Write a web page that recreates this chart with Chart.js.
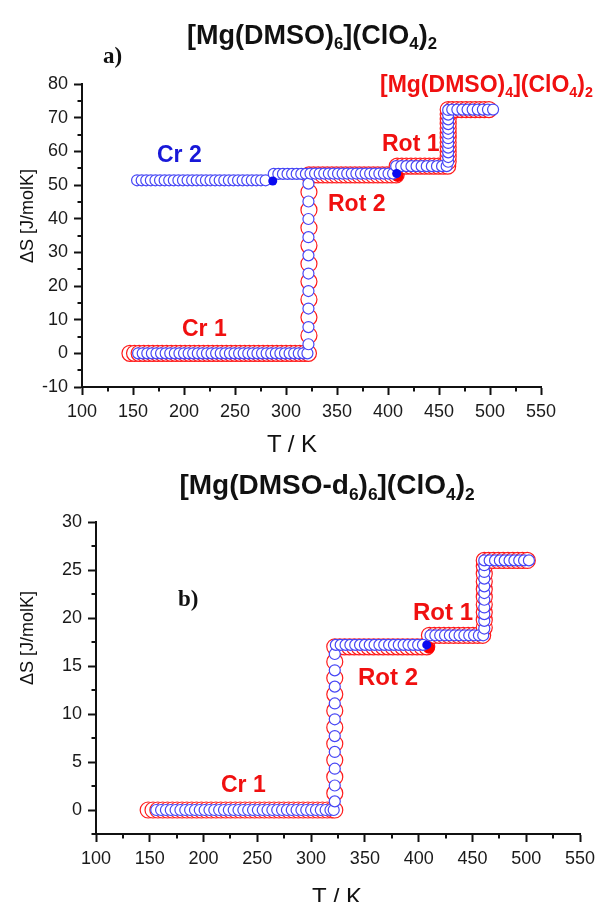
<!DOCTYPE html>
<html>
<head>
<meta charset="utf-8">
<script src="https://cdn.jsdelivr.net/npm/chart.js@4.4.1/dist/chart.umd.min.js"></script>
<style>
  html, body { margin: 0; padding: 0; background: #fff; }
  #page { position: relative; width: 596px; height: 902px; overflow: hidden; }
  .box { position: absolute; left: 0; }
  .lbl { position: absolute; white-space: nowrap; line-height: 1; font-family: "Liberation Sans", Arial, sans-serif; color: #111; }
  .b { font-weight: bold; }
  .sb { font-size: 0.62em; position: relative; top: 0.32em; }
  .ctr { transform: translateX(-50%); }
  .red { color: #f01010; }
  .blue { color: #1818d8; }
  .serif { font-family: "Liberation Serif", "DejaVu Serif", serif; }
  .ytitle { transform: translate(-50%, -50%) rotate(-90deg); font-size: 18px; }
</style>
</head>
<body>
<div id="page">
  <div class="box" style="top:0"><canvas id="chartA" width="596" height="460"></canvas></div>
  <div class="box" style="top:460px"><canvas id="chartB" width="596" height="442"></canvas></div>

  <!-- panel a -->
  <div class="lbl b ctr" style="left:312px;top:22px;font-size:27px">[Mg(DMSO)<span class="sb">6</span>](ClO<span class="sb">4</span>)<span class="sb">2</span></div>
  <div class="lbl b serif" style="left:103px;top:44px;font-size:23px">a)</div>
  <div class="lbl b red" style="left:380px;top:73px;font-size:23px">[Mg(DMSO)<span class="sb">4</span>](ClO<span class="sb">4</span>)<span class="sb">2</span></div>
  <div class="lbl b blue" style="left:157px;top:143px;font-size:23px">Cr 2</div>
  <div class="lbl b red" style="left:382px;top:132px;font-size:23px">Rot 1</div>
  <div class="lbl b red" style="left:328px;top:192px;font-size:23px">Rot 2</div>
  <div class="lbl b red" style="left:182px;top:317px;font-size:23px">Cr 1</div>
  <div class="lbl ytitle" style="left:27px;top:216px">ΔS [J/molK]</div>
  <div class="lbl ctr" style="left:292px;top:432px;font-size:24px">T / K</div>

  <!-- panel b -->
  <div class="lbl b ctr" style="left:327px;top:471px;font-size:28px">[Mg(DMSO-d<span class="sb">6</span>)<span class="sb">6</span>](ClO<span class="sb">4</span>)<span class="sb">2</span></div>
  <div class="lbl b serif" style="left:178px;top:587px;font-size:23px">b)</div>
  <div class="lbl b red" style="left:413px;top:600px;font-size:24px">Rot 1</div>
  <div class="lbl b red" style="left:358px;top:665px;font-size:24px">Rot 2</div>
  <div class="lbl b red" style="left:221px;top:773px;font-size:23px">Cr 1</div>
  <div class="lbl ytitle" style="left:27px;top:638px">ΔS [J/molK]</div>
  <div class="lbl ctr" style="left:337px;top:885px;font-size:24px">T / K</div>
</div>

<script>
// [T (K), ΔS (J/molK)] pairs, panel a
const topRed = [
  [147,0],[151.5,0],[156,0],[160.5,0],[165,0],[169.5,0],[174,0],[178.5,0],[183,0],[187.5,0],
  [192,0],[196.5,0],[201,0],[205.5,0],[210,0],[214.5,0],[219,0],[223.5,0],[228,0],[232.5,0],
  [237,0],[241.5,0],[246,0],[250.5,0],[255,0],[259.5,0],[264,0],[268.5,0],[273,0],[277.5,0],
  [282,0],[286.5,0],[291,0],[295.5,0],[300,0],[304.5,0],[309,0],[313.5,0],[318,0],[322,0],
  [322.5,5.3],[322.5,10.7],[322.5,16.0],[322.5,21.3],[322.5,26.6],[322.5,32.0],[322.5,37.3],[322.5,42.6],[322.5,47.9],
  [322.5,53.0],[327,53.0],[331.5,53.0],[336,53.0],[340.5,53.0],[345,53.0],[349.5,53.0],[354,53.0],[358.5,53.0],[363,53.0],
  [367.5,53.0],[372,53.0],[376.5,53.0],[381,53.0],[385.5,53.0],[390,53.0],[394.5,53.0],[399,53.0],[403.5,53.0],[408,53.0],
  [409,55.6],[413.5,55.6],[418,55.6],[422.5,55.6],[427,55.6],[431.5,55.6],[436,55.6],[440.5,55.6],[445,55.6],[449.5,55.6],[454,55.6],[458.5,55.6],
  [459,57.0],[459,58.4],[459,59.8],[459,61.2],[459,62.6],[459,64.0],[459,65.4],[459,66.8],[459,68.2],[459,69.6],[459,71.0],[459,72.4],
  [463,72.4],[467.5,72.4],[472,72.4],[476.5,72.4],[481,72.4],[485.5,72.4],[490,72.4],[494.5,72.4],[499,72.4]
];
const topBlue = [
  [155,0],[159.5,0],[164,0],[168.5,0],[173,0],[177.5,0],[182,0],[186.5,0],[191,0],[195.5,0],
  [200,0],[204.5,0],[209,0],[213.5,0],[218,0],[222.5,0],[227,0],[231.5,0],[236,0],[240.5,0],
  [245,0],[249.5,0],[254,0],[258.5,0],[263,0],[267.5,0],[272,0],[276.5,0],[281,0],[285.5,0],
  [290,0],[294.5,0],[299,0],[303.5,0],[308,0],[312.5,0],[317,0],[321,0],
  [322,2.7],[322,7.8],[322,13.3],[322,18.5],[322,23.7],[322,29.1],[322,34.5],[322,39.9],[322,45.1],[322,50.4],
  [324,53.4],[328.5,53.4],[333,53.4],[337.5,53.4],[342,53.4],[346.5,53.4],[351,53.4],[355.5,53.4],[360,53.4],[364.5,53.4],
  [369,53.4],[373.5,53.4],[378,53.4],[382.5,53.4],[387,53.4],[391.5,53.4],[396,53.4],[400.5,53.4],[405,53.4],
  [408,55.6],[413,55.6],[418,55.6],[423,55.6],[428,55.6],[433,55.6],[438,55.6],[443,55.6],[448,55.6],[453,55.6],[457.5,55.6],
  [459,56.9],[459,58.3],[459,59.7],[459,61.1],[459,62.5],[459,63.9],[459,65.3],[459,66.7],[459,68.1],[459,69.5],[459,70.9],[459,72.3],
  [463,72.4],[468,72.4],[473,72.4],[478,72.4],[483,72.4],[488,72.4],[493,72.4],[498,72.4],[503,72.4]
];
const topCr2 = [
  [154,51.4],[158.5,51.4],[163,51.4],[167.5,51.4],[172,51.4],[176.5,51.4],[181,51.4],[185.5,51.4],[190,51.4],[194.5,51.4],
  [199,51.4],[203.5,51.4],[208,51.4],[212.5,51.4],[217,51.4],[221.5,51.4],[226,51.4],[230.5,51.4],[235,51.4],[239.5,51.4],
  [244,51.4],[248.5,51.4],[253,51.4],[257.5,51.4],[262,51.4],[266.5,51.4],[271,51.4],[275.5,51.4],[280,51.4],
  [288,53.3],[292.5,53.3],[297,53.3],[301.5,53.3],[306,53.3],[310.5,53.3],[315,53.3],[319.5,53.3]
];
const topBlueSolid = [[287,51.2],[408.5,53.4]];
const topRedSolid = [[409.5,52.7]];

// panel b (deuterated)
const botRed = [
  [148.5,0],[153,0],[157.5,0],[162,0],[166.5,0],[171,0],[175.5,0],[180,0],[184.5,0],[189,0],
  [193.5,0],[198,0],[202.5,0],[207,0],[211.5,0],[216,0],[220.5,0],[225,0],[229.5,0],[234,0],
  [238.5,0],[243,0],[247.5,0],[252,0],[256.5,0],[261,0],[265.5,0],[270,0],[274.5,0],[279,0],
  [283.5,0],[288,0],[292.5,0],[297,0],[301.5,0],[306,0],[310.5,0],[315,0],[319.5,0],[322,0],
  [322,1.75],[322,3.45],[322,5.2],[322,6.9],[322,8.6],[322,10.35],[322,12.05],[322,13.75],[322,15.45],[322,17.0],
  [326.5,17.0],[331,17.0],[335.5,17.0],[340,17.0],[344.5,17.0],[349,17.0],[353.5,17.0],[358,17.0],[362.5,17.0],[367,17.0],
  [371.5,17.0],[376,17.0],[380.5,17.0],[385,17.0],[389.5,17.0],[394,17.0],[398.5,17.0],[403,17.0],[407.5,17.0],
  [410,18.2],[414.5,18.2],[419,18.2],[423.5,18.2],[428,18.2],[432.5,18.2],[437,18.2],[441.5,18.2],[446,18.2],[450.5,18.2],[455,18.2],[459.5,18.2],
  [461,19.0],[461,19.8],[461,20.6],[461,21.4],[461,22.2],[461,23.0],[461,23.8],[461,24.6],[461,25.4],[461,26.0],
  [465,26.0],[469.5,26.0],[474,26.0],[478.5,26.0],[483,26.0],[487.5,26.0],[492,26.0],[496.5,26.0],[501,26.0]
];
const botBlue = [
  [156,0],[160.5,0],[165,0],[169.5,0],[174,0],[178.5,0],[183,0],[187.5,0],[192,0],[196.5,0],
  [201,0],[205.5,0],[210,0],[214.5,0],[219,0],[223.5,0],[228,0],[232.5,0],[237,0],[241.5,0],
  [246,0],[250.5,0],[255,0],[259.5,0],[264,0],[268.5,0],[273,0],[277.5,0],[282,0],[286.5,0],
  [291,0],[295.5,0],[300,0],[304.5,0],[309,0],[313.5,0],[318,0],[321,0],
  [322,0.9],[322,2.55],[322,4.3],[322,6.05],[322,7.7],[322,9.45],[322,11.1],[322,12.85],[322,14.55],[322,16.25],
  [323,17.2],[327.5,17.2],[332,17.2],[336.5,17.2],[341,17.2],[345.5,17.2],[350,17.2],[354.5,17.2],[359,17.2],[363.5,17.2],
  [368,17.2],[372.5,17.2],[377,17.2],[381.5,17.2],[386,17.2],[390.5,17.2],[395,17.2],[399.5,17.2],[404,17.2],
  [411,18.2],[415.5,18.2],[420,18.2],[424.5,18.2],[429,18.2],[433.5,18.2],[438,18.2],[442.5,18.2],[447,18.2],[451.5,18.2],[456,18.2],[460,18.2],
  [461,18.9],[461,19.7],[461,20.4],[461,21.1],[461,21.9],[461,22.6],[461,23.3],[461,24.1],[461,24.8],[461,25.5],
  [461,26.0],[466,26.0],[471,26.0],[475.5,26.0],[480,26.0],[484.5,26.0],[489,26.0],[493.5,26.0],[498,26.0],[502.5,26.0]
];
const botBlueSolid = [[407.5,17.2]];
const botRedSolid = [[409.5,16.9]];

// axis ranges and tick steps
const xRange = [100, 550], xStep = 50, xMinor = 25;
const topYRange = [-10, 80], topYStep = 10, topYMinor = 5;
const botYRange = [-2.5, 30], botYStep = 5, botYMinor = 2.5;

const RED = '#ff1a1a';
const BLUE = '#4646f5';
const INK = '#111';
const tickFont = { family: '"Liberation Sans", Arial, sans-serif', size: 18 };

function toXY(pairs) {
  return pairs.map(p => ({ x: p[0], y: p[1] }));
}

function hollow(pairs, color, r, order) {
  return {
    data: toXY(pairs), order: order,
    pointRadius: r, pointBorderWidth: 1.2,
    pointBorderColor: color, pointBackgroundColor: '#fff',
    showLine: false
  };
}

function solid(pairs, color, r, order) {
  return {
    data: toXY(pairs), order: order,
    pointRadius: r, pointBorderWidth: 0,
    pointBackgroundColor: color, showLine: false
  };
}

// short unlabeled ticks between the labeled ones
const minorTicks = {
  id: 'minorTicks',
  afterDraw(chart, args, opts) {
    const ctx = chart.ctx;
    ctx.save();
    ctx.strokeStyle = INK;
    ctx.lineWidth = 2;
    const xs = chart.scales.x, ys = chart.scales.y;
    const isMajor = (v, step) => Math.abs(v / step - Math.round(v / step)) < 1e-6;
    for (let v = Math.ceil(xs.min / opts.x) * opts.x; v <= xs.max; v += opts.x) {
      if (isMajor(v, opts.xMajor)) continue;
      const px = Math.round(xs.getPixelForValue(v));
      ctx.beginPath();
      ctx.moveTo(px, xs.top);
      ctx.lineTo(px, xs.top + 4.5);
      ctx.stroke();
    }
    for (let v = Math.ceil(ys.min / opts.y) * opts.y; v <= ys.max; v += opts.y) {
      if (isMajor(v, opts.yMajor)) continue;
      const py = Math.round(ys.getPixelForValue(v));
      ctx.beginPath();
      ctx.moveTo(ys.right, py);
      ctx.lineTo(ys.right - 4.5, py);
      ctx.stroke();
    }
    ctx.restore();
  }
};

function makeChart(id, datasets, yRange, yStep, yMinor, box) {
  const axisCommon = {
    grid: { drawOnChartArea: false, drawTicks: true, tickLength: 8, tickWidth: 2, tickColor: INK },
    border: { display: true, color: INK, width: 2 }
  };
  return new Chart(document.getElementById(id), {
    type: 'scatter',
    data: { datasets: datasets },
    plugins: [minorTicks],
    options: {
      responsive: false,
      animation: false,
      events: [],
      layout: { padding: { left: 0, right: box.right, top: box.top, bottom: 0 } },
      scales: {
        x: Object.assign({}, axisCommon, {
          type: 'linear', min: xRange[0], max: xRange[1],
          ticks: { stepSize: xStep, font: tickFont, color: '#1a1a1a', padding: 6, maxRotation: 0 },
          afterFit: s => { s.height = box.xHeight; s.paddingLeft = 0; s.paddingRight = 0; }
        }),
        y: Object.assign({}, axisCommon, {
          type: 'linear', min: yRange[0], max: yRange[1],
          ticks: { stepSize: yStep, font: tickFont, color: '#1a1a1a', padding: 6 },
          afterBuildTicks: s => { s.ticks = s.ticks.filter(t => Math.abs(t.value / yStep - Math.round(t.value / yStep)) < 1e-6); },
          afterFit: s => { s.width = box.yWidth; s.paddingTop = 0; s.paddingBottom = 0; }
        })
      },
      plugins: {
        legend: { display: false },
        tooltip: { enabled: false },
        minorTicks: { x: xMinor, xMajor: xStep, y: yMinor, yMajor: yStep }
      }
    }
  });
}

makeChart('chartA', [
  solid(topBlueSolid, '#0a0af0', 4.5, 0),
  hollow(topBlue, BLUE, 5.5, 1),
  hollow(topCr2, BLUE, 5.5, 2),
  solid(topRedSolid, '#ff0000', 6, 3),
  hollow(topRed, RED, 8, 4)
], topYRange, topYStep, topYMinor, { yWidth: 82, right: 55, top: 84, xHeight: 73 });

makeChart('chartB', [
  solid(botBlueSolid, '#0a0af0', 4.5, 0),
  hollow(botBlue, BLUE, 5.5, 1),
  solid(botRedSolid, '#ff0000', 6, 3),
  hollow(botRed, RED, 8, 4)
], botYRange, botYStep, botYMinor, { yWidth: 96, right: 16, top: 62, xHeight: 68 });
</script>
</body>
</html>
